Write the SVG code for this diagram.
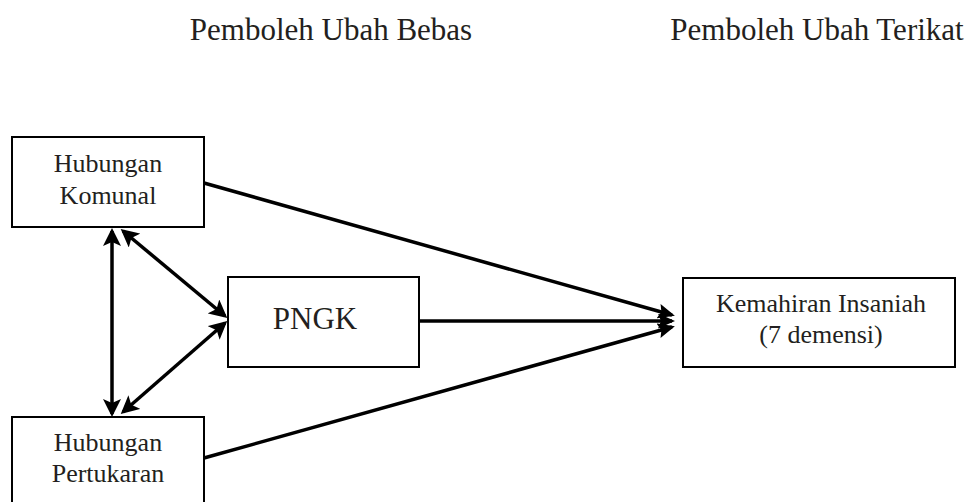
<svg xmlns="http://www.w3.org/2000/svg" width="972" height="502" viewBox="0 0 972 502">
<style>
.box{fill:#fff;stroke:#000;stroke-width:2}
.t{font-family:"Liberation Serif","Times New Roman",serif;fill:#231f20;text-anchor:middle}
.c{stroke:#000;stroke-width:3.5;fill:none}
</style>
<defs>
<marker id="ah" viewBox="0 0 18 18" refX="15" refY="9" markerWidth="18" markerHeight="18" markerUnits="userSpaceOnUse" orient="auto-start-reverse">
<path d="M0,0 L18,9 L0,18 L4,9 z" fill="#000"/>
</marker>
<marker id="ar" viewBox="0 0 17 15" refX="14" refY="7.5" markerWidth="17" markerHeight="15" markerUnits="userSpaceOnUse" orient="auto">
<path d="M0,0 L17,7.5 L0,15 L3,7.5 z" fill="#000"/>
</marker>
</defs>
<rect width="972" height="502" fill="#fff"/>
<text class="t" x="331" y="40" font-size="31">Pemboleh Ubah Bebas</text>
<text class="t" x="817" y="40" font-size="31">Pemboleh Ubah Terikat</text>
<g id="connectors">
<line class="c" x1="112" y1="231" x2="112" y2="414" marker-start="url(#ah)" marker-end="url(#ah)"/>
<line class="c" x1="123" y1="231" x2="225" y2="316" marker-start="url(#ah)" marker-end="url(#ah)"/>
<line class="c" x1="123" y1="412" x2="225" y2="323" marker-start="url(#ah)" marker-end="url(#ah)"/>
<line class="c" x1="204" y1="183" x2="672" y2="315" marker-end="url(#ar)"/>
<line class="c" x1="419" y1="321" x2="672" y2="321" marker-end="url(#ar)"/>
<line class="c" x1="204" y1="458" x2="672" y2="327" marker-end="url(#ar)"/>
</g>
<g id="komunal">
<rect class="box" x="12" y="137" width="192" height="90"/>
<text class="t" x="108" y="172" font-size="26">Hubungan</text>
<text class="t" x="108" y="204" font-size="26">Komunal</text>
</g>
<g id="pertukaran">
<rect class="box" x="12" y="417" width="192" height="100"/>
<text class="t" x="108" y="451" font-size="26">Hubungan</text>
<text class="t" x="108" y="482" font-size="26">Pertukaran</text>
</g>
<g id="pngk">
<rect class="box" x="228" y="277" width="191" height="90"/>
<text class="t" x="315" y="329" font-size="31">PNGK</text>
</g>
<g id="kemahiran">
<rect class="box" x="683" y="278" width="272" height="89"/>
<text class="t" x="821" y="312" font-size="26">Kemahiran Insaniah</text>
<text class="t" x="821" y="343" font-size="26">(7 demensi)</text>
</g>
</svg>
